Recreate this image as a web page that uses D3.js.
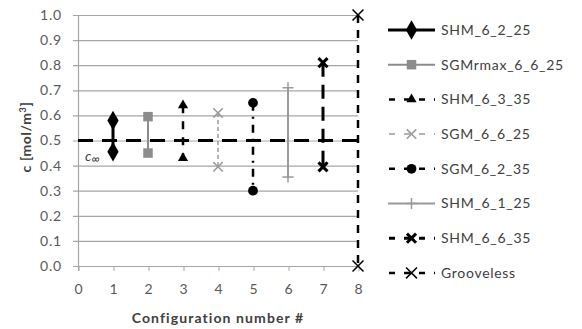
<!DOCTYPE html>
<html>
<head>
<meta charset="utf-8">
<script src="https://cdn.jsdelivr.net/npm/d3@7"></script>
<style>
  body { margin: 0; background: #fff; }
  svg { font-family: Lato, "Open Sans", sans-serif; }
</style>
</head>
<body>
<div id="chart"></div>
<script>
// chart values
var seriesNames = ["SHM_6_2_25", "SGMrmax_6_6_25", "SHM_6_3_35", "SGM_6_6_25",
                   "SGM_6_2_35", "SHM_6_1_25", "SHM_6_6_35", "Grooveless"];
var configNumbers = [1, 2, 3, 4, 5, 6, 7, 8];
var highValues = [0.58, 0.595, 0.64, 0.61, 0.65, 0.71, 0.81, 1.0];
var lowValues  = [0.455, 0.45, 0.43, 0.395, 0.30, 0.355, 0.395, 0.0];
var cInf = 0.5;
var xTicks = [0, 1, 2, 3, 4, 5, 6, 7, 8];
var yTicks = [0, 0.1, 0.2, 0.3, 0.4, 0.5, 0.6, 0.7, 0.8, 0.9, 1.0];

// styles per series
var styles = [
    {color: "#000", width: 3,   dash: null,      sym: "diamond",  size: 110, fill: true},
    {color: "#8c8c8c", width: 2, dash: null,     sym: "square",   size: 90,  fill: true},
    {color: "#000", width: 2.5, dash: "8,8",     sym: "triangle", size: 45,  fill: true},
    {color: "#9a9a9a", width: 1.5, dash: "4,3",  sym: "x",        size: 60,  fill: false},
    {color: "#000", width: 2.5, dash: "8,6,2,6", sym: "circle",   size: 75,  fill: true},
    {color: "#9a9a9a", width: 2, dash: null,     sym: "plus",     size: 60,  fill: false},
    {color: "#000", width: 3,   dash: "14,8",    sym: "xbold",    size: 55,  fill: false},
    {color: "#000", width: 2.5, dash: "8,7",     sym: "x",        size: 80,  fill: false}
];

var margin = {top: 15, right: 224, bottom: 63, left: 78};
var width = 582, height = 329;
var innerW = width - margin.left - margin.right,
    innerH = height - margin.top - margin.bottom;

var svg = d3.select("#chart").append("svg")
    .attr("width", width)
    .attr("height", height);

var g = svg.append("g")
    .attr("transform", "translate(" + margin.left + "," + margin.top + ")");

var x = d3.scaleLinear().domain([0, 8]).range([0, innerW]);
var y = d3.scaleLinear().domain([0, 1]).range([innerH, 0]);

// gridlines
g.append("g")
    .selectAll("line")
    .data(yTicks)
    .join("line")
    .attr("x1", -5)
    .attr("x2", innerW)
    .attr("y1", d => y(d) + 0.5)
    .attr("y2", d => y(d) + 0.5)
    .attr("stroke", "#a6a6a6")
    .attr("stroke-width", 1.2);

// y tick labels
g.append("g")
    .selectAll("text")
    .data(yTicks)
    .join("text")
    .attr("x", -16)
    .attr("y", d => y(d))
    .attr("dy", "0.35em")
    .attr("text-anchor", "end")
    .attr("fill", "#595959")
    .attr("font-size", 14)
    .attr("letter-spacing", 0.8)
    .text(d => d.toFixed(1));

// x axis
var xAxis = g.append("g")
    .attr("transform", "translate(0," + innerH + ")")
    .call(d3.axisBottom(x).tickValues(xTicks).tickSize(5).tickSizeOuter(0).tickPadding(13));
xAxis.select(".domain").remove();
xAxis.selectAll("line").attr("stroke", "#a6a6a6").attr("transform", "translate(0.5,0)");
xAxis.selectAll("text").attr("fill", "#595959").attr("font-size", 14)
    .attr("font-family", "Lato, sans-serif");

// left axis line
g.append("line")
    .attr("x1", 0.5).attr("x2", 0.5)
    .attr("y1", 0).attr("y2", innerH + 5)
    .attr("stroke", "#a6a6a6")
    .attr("stroke-width", 1.2);

// axis titles
svg.append("text")
    .attr("x", margin.left + innerW / 2)
    .attr("y", 323)
    .attr("text-anchor", "middle")
    .attr("font-weight", "bold")
    .attr("font-size", 14)
    .attr("letter-spacing", 1.1)
    .attr("fill", "#404040")
    .text("Configuration number #");

var yTitle = svg.append("text")
    .attr("transform", "translate(31," + (margin.top + 122) + ") rotate(-90)")
    .attr("text-anchor", "middle")
    .attr("font-weight", "bold")
    .attr("font-size", 14)
    .attr("letter-spacing", 0.6)
    .attr("fill", "#404040");
yTitle.append("tspan").text("c [mol/m");
yTitle.append("tspan").attr("dy", -5).attr("font-size", 9).text("3");
yTitle.append("tspan").attr("dy", 5).text("]");

// c infinity line
g.append("line")
    .attr("x1", x(0)).attr("x2", x(8))
    .attr("y1", y(cInf)).attr("y2", y(cInf))
    .attr("stroke", "#000")
    .attr("stroke-width", 3)
    .attr("stroke-dasharray", "15,9");

var cLabel = g.append("text")
    .attr("x", 7)
    .attr("y", y(cInf) + 20)
    .attr("font-style", "italic")
    .attr("font-size", 14)
    .attr("fill", "#404040");
cLabel.append("tspan").text("c");
cLabel.append("tspan").attr("dy", 2).attr("font-size", 12).text("∞");

function markerPath(sym, size) {
    var types = {
        diamond: d3.symbolDiamond, square: d3.symbolSquare, triangle: d3.symbolTriangle,
        circle: d3.symbolCircle, plus: d3.symbolCross, x: d3.symbolX, xbold: d3.symbolX
    };
    if (sym === "plus") {
        var r = Math.sqrt(size) / 1.4;
        return "M" + (-r) + ",0H" + r + "M0," + (-r) + "V" + r;
    }
    return d3.symbol().type(types[sym]).size(size)();
}

function drawMarker(sel, st, cx, cy) {
    var p = sel.append("path")
        .attr("transform", "translate(" + cx + "," + cy + ")")
        .attr("d", markerPath(st.sym, st.size));
    if (st.fill) {
        p.attr("fill", st.color).attr("stroke", "none");
    } else {
        p.attr("fill", "none").attr("stroke", st.color)
         .attr("stroke-width", st.sym === "xbold" ? 3 : 1.5);
    }
}

// series: vertical range lines with end markers
configNumbers.forEach(function(c, i) {
    var st = styles[i];
    var s = g.append("g").attr("class", "series");
    s.append("line")
        .attr("x1", x(c)).attr("x2", x(c))
        .attr("y1", y(highValues[i])).attr("y2", y(lowValues[i]))
        .attr("stroke", st.color)
        .attr("stroke-width", st.width)
        .attr("stroke-dasharray", st.dash);
    drawMarker(s, st, x(c), y(highValues[i]));
    drawMarker(s, st, x(c), y(lowValues[i]));
});

// legend
var legend = svg.append("g").attr("transform", "translate(388,30)");
seriesNames.forEach(function(name, i) {
    var st = styles[i];
    var row = legend.append("g").attr("transform", "translate(0," + (i * 34.7) + ")");
    row.append("line")
        .attr("x1", 0).attr("x2", 47)
        .attr("y1", 0).attr("y2", 0)
        .attr("stroke", st.color)
        .attr("stroke-width", st.width)
        .attr("stroke-dasharray", st.dash ? "6,9" : null)
        .attr("stroke-dashoffset", st.dash ? -1 : null);
    drawMarker(row, st, 23.5, 0);
    row.append("text")
        .attr("x", 53)
        .attr("y", 0)
        .attr("dy", "0.35em")
        .attr("font-size", 14)
        .attr("letter-spacing", 0.7)
        .attr("fill", "#404040")
        .text(name);
});
</script>
</body>
</html>
